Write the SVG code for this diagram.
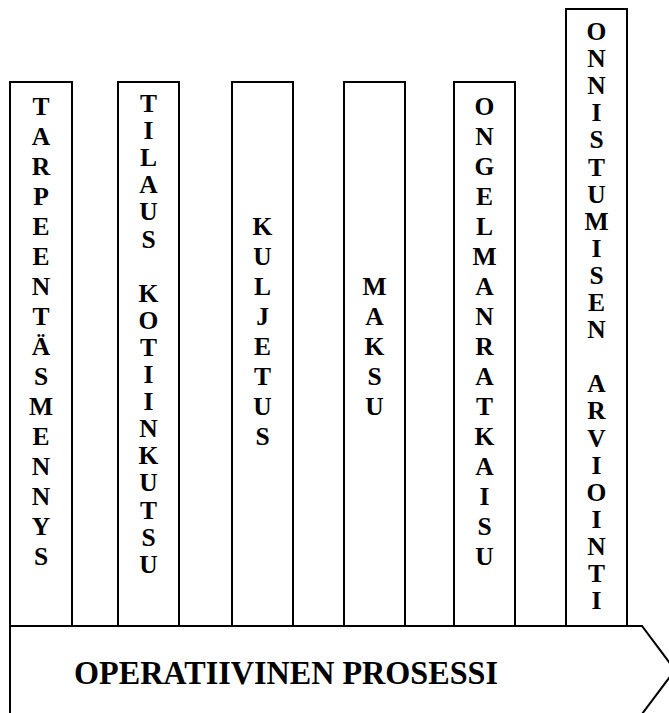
<svg xmlns="http://www.w3.org/2000/svg" width="669" height="713" viewBox="0 0 669 713">
<style>
.box{fill:#fff;stroke:#000;stroke-width:2}
.lt{font-family:"Liberation Serif","Times New Roman",serif;font-weight:bold;font-size:25.5px;fill:#000;text-anchor:middle}
.big{font-family:"Liberation Serif","Times New Roman",serif;font-weight:bold;font-size:33px;fill:#000}
</style>
<rect width="669" height="713" fill="#fff"/>
<g id="connectors"/>
<g id="col-tarpeentasmennys">
<rect class="box" x="10" y="82" width="62" height="544"/>
<text class="lt"><tspan x="41" y="115">T</tspan><tspan x="41" y="145">A</tspan><tspan x="41" y="175">R</tspan><tspan x="41" y="205">P</tspan><tspan x="41" y="235">E</tspan><tspan x="41" y="265">E</tspan><tspan x="41" y="295">N</tspan><tspan x="41" y="325">T</tspan><tspan x="41" y="355">Ä</tspan><tspan x="41" y="385">S</tspan><tspan x="41" y="415">M</tspan><tspan x="41" y="445">E</tspan><tspan x="41" y="475">N</tspan><tspan x="41" y="505">N</tspan><tspan x="41" y="535">Y</tspan><tspan x="41" y="565">S</tspan></text>
</g>
<g id="col-tilaus">
<rect class="box" x="118" y="82" width="61" height="544"/>
<text class="lt"><tspan x="148.5" y="112">T</tspan><tspan x="148.5" y="139.1">I</tspan><tspan x="148.5" y="166.2">L</tspan><tspan x="148.5" y="193.3">A</tspan><tspan x="148.5" y="220.4">U</tspan><tspan x="148.5" y="247.5">S</tspan><tspan x="148.5" y="301.7">K</tspan><tspan x="148.5" y="328.8">O</tspan><tspan x="148.5" y="355.9">T</tspan><tspan x="148.5" y="383">I</tspan><tspan x="148.5" y="410.1">I</tspan><tspan x="148.5" y="437.2">N</tspan><tspan x="148.5" y="464.3">K</tspan><tspan x="148.5" y="491.4">U</tspan><tspan x="148.5" y="518.5">T</tspan><tspan x="148.5" y="545.6">S</tspan><tspan x="148.5" y="572.7">U</tspan></text>
</g>
<g id="col-kuljetus">
<rect class="box" x="232" y="82" width="61" height="544"/>
<text class="lt"><tspan x="262.5" y="235">K</tspan><tspan x="262.5" y="265">U</tspan><tspan x="262.5" y="295">L</tspan><tspan x="262.5" y="325">J</tspan><tspan x="262.5" y="355">E</tspan><tspan x="262.5" y="385">T</tspan><tspan x="262.5" y="415">U</tspan><tspan x="262.5" y="445">S</tspan></text>
</g>
<g id="col-maksu">
<rect class="box" x="344" y="82" width="61" height="544"/>
<text class="lt"><tspan x="374.5" y="295">M</tspan><tspan x="374.5" y="325">A</tspan><tspan x="374.5" y="355">K</tspan><tspan x="374.5" y="385">S</tspan><tspan x="374.5" y="415">U</tspan></text>
</g>
<g id="col-ongelmanratkaisu">
<rect class="box" x="454" y="82" width="61" height="544"/>
<text class="lt"><tspan x="484.5" y="115">O</tspan><tspan x="484.5" y="145">N</tspan><tspan x="484.5" y="175">G</tspan><tspan x="484.5" y="205">E</tspan><tspan x="484.5" y="235">L</tspan><tspan x="484.5" y="265">M</tspan><tspan x="484.5" y="295">A</tspan><tspan x="484.5" y="325">N</tspan><tspan x="484.5" y="355">R</tspan><tspan x="484.5" y="385">A</tspan><tspan x="484.5" y="415">T</tspan><tspan x="484.5" y="445">K</tspan><tspan x="484.5" y="475">A</tspan><tspan x="484.5" y="505">I</tspan><tspan x="484.5" y="535">S</tspan><tspan x="484.5" y="565">U</tspan></text>
</g>
<g id="col-onnistumisen">
<rect class="box" x="566" y="9" width="61" height="617"/>
<text class="lt"><tspan x="596.5" y="40">O</tspan><tspan x="596.5" y="67.1">N</tspan><tspan x="596.5" y="94.2">N</tspan><tspan x="596.5" y="121.3">I</tspan><tspan x="596.5" y="148.4">S</tspan><tspan x="596.5" y="175.5">T</tspan><tspan x="596.5" y="202.6">U</tspan><tspan x="596.5" y="229.7">M</tspan><tspan x="596.5" y="256.8">I</tspan><tspan x="596.5" y="283.9">S</tspan><tspan x="596.5" y="311">E</tspan><tspan x="596.5" y="338.1">N</tspan><tspan x="596.5" y="392.3">A</tspan><tspan x="596.5" y="419.4">R</tspan><tspan x="596.5" y="446.5">V</tspan><tspan x="596.5" y="473.6">I</tspan><tspan x="596.5" y="500.7">O</tspan><tspan x="596.5" y="527.8">I</tspan><tspan x="596.5" y="554.9">N</tspan><tspan x="596.5" y="582">T</tspan><tspan x="596.5" y="609.1">I</tspan></text>
</g>
<g id="operatiivinen-prosessi">
<polygon class="box" points="10,626 642,626 675,670 642,714 10,714"/>
<text class="big" x="74" y="684" textLength="424" lengthAdjust="spacingAndGlyphs">OPERATIIVINEN PROSESSI</text>
</g>
</svg>
